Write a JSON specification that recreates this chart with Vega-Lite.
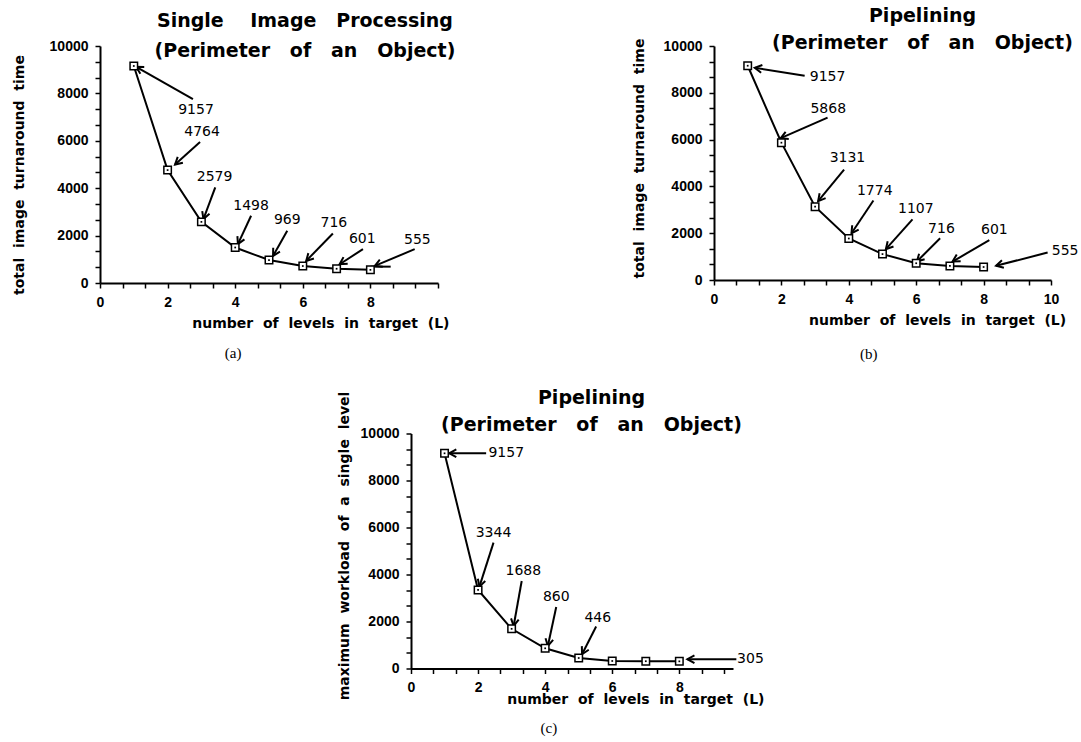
{
  "$schema": "https://vega.github.io/schema/vega-lite/v6.json",
  "padding": {"left": 11, "top": 7, "right": 5, "bottom": 5},
  "background": "white",
  "datasets": {
    "a_pts": [
      {"L": 1, "value": 9157}, {"L": 2, "value": 4764}, {"L": 3, "value": 2579}, {"L": 4, "value": 1498},
      {"L": 5, "value": 969}, {"L": 6, "value": 716}, {"L": 7, "value": 601}, {"L": 8, "value": 555}
    ],
    "b_pts": [
      {"L": 1, "value": 9157}, {"L": 2, "value": 5868}, {"L": 3, "value": 3131}, {"L": 4, "value": 1774},
      {"L": 5, "value": 1107}, {"L": 6, "value": 716}, {"L": 7, "value": 601}, {"L": 8, "value": 555}
    ],
    "c_pts": [
      {"L": 1, "value": 9157}, {"L": 2, "value": 3344}, {"L": 3, "value": 1688}, {"L": 4, "value": 860},
      {"L": 5, "value": 446}, {"L": 6, "value": 320}, {"L": 7, "value": 310}, {"L": 8, "value": 305}
    ],
    "a_arr": [
      {"label": "9157", "tx": 2.75, "ty": 7754, "hx": 1.07, "hy": 9123, "lx": 2.84, "ly": 7288, "ang": 29.7},
      {"label": "4764", "tx": 2.96, "ty": 5945, "hx": 2.22, "hy": 5000, "lx": 3.02, "ly": 6369, "ang": -41.7},
      {"label": "2579", "tx": 3.41, "ty": 4038, "hx": 3.06, "hy": 2699, "lx": 3.39, "ly": 4462, "ang": -69.7},
      {"label": "1498", "tx": 4.47, "ty": 2839, "hx": 4.08, "hy": 1640, "lx": 4.47, "ly": 3263, "ang": -64.8},
      {"label": "969", "tx": 5.54, "ty": 2203, "hx": 5.12, "hy": 1144, "lx": 5.54, "ly": 2657, "ang": -60.2},
      {"label": "716", "tx": 6.89, "ty": 2089, "hx": 6.10, "hy": 932, "lx": 6.92, "ly": 2513, "ang": -45.6},
      {"label": "601", "tx": 7.78, "ty": 1428, "hx": 7.09, "hy": 792, "lx": 7.76, "ly": 1852, "ang": -32.7},
      {"label": "555", "tx": 9.31, "ty": 1428, "hx": 8.13, "hy": 720, "lx": 9.39, "ly": 1822, "ang": -22.7}
    ],
    "a_seg": [{"x1": 8, "y1": 690, "x2": 8.6, "y2": 690}],
    "b_arr": [
      {"label": "9157", "tx": 2.69, "ty": 8725, "hx": 1.21, "hy": 9069, "lx": 3.37, "ly": 8678, "ang": 9.1},
      {"label": "5868", "tx": 3.37, "ty": 6940, "hx": 1.98, "hy": 6060, "lx": 3.39, "ly": 7310, "ang": -23.9},
      {"label": "3131", "tx": 3.86, "ty": 4717, "hx": 3.09, "hy": 3370, "lx": 3.96, "ly": 5210, "ang": -50.6},
      {"label": "1774", "tx": 4.73, "ty": 3400, "hx": 4.08, "hy": 1997, "lx": 4.77, "ly": 3795, "ang": -56.3},
      {"label": "1107", "tx": 5.89, "ty": 2592, "hx": 5.10, "hy": 1317, "lx": 5.99, "ly": 3017, "ang": -48.3},
      {"label": "716", "tx": 6.71, "ty": 1785, "hx": 6.02, "hy": 790, "lx": 6.75, "ly": 2167, "ang": -45.1},
      {"label": "601", "tx": 8.17, "ty": 1700, "hx": 7.08, "hy": 790, "lx": 8.32, "ly": 2125, "ang": -30.3},
      {"label": "555", "tx": 9.90, "ty": 1173, "hx": 8.37, "hy": 608, "lx": 10.42, "ly": 1245, "ang": -14.4}
    ],
    "c_arr": [
      {"label": "9157", "tx": 2.24, "ty": 9157, "hx": 1.14, "hy": 9157, "lx": 2.84, "ly": 9157, "ang": 0},
      {"label": "3344", "tx": 2.46, "ty": 5355, "hx": 2.04, "hy": 3485, "lx": 2.46, "ly": 5780, "ang": -72.4},
      {"label": "1688", "tx": 3.30, "ty": 3723, "hx": 3.06, "hy": 1810, "lx": 3.35, "ly": 4148, "ang": -79.9},
      {"label": "860", "tx": 4.33, "ty": 2618, "hx": 4.08, "hy": 960, "lx": 4.33, "ly": 3060, "ang": -78},
      {"label": "446", "tx": 5.52, "ty": 1785, "hx": 5.10, "hy": 608, "lx": 5.57, "ly": 2167, "ang": -62.7},
      {"label": "305", "tx": 9.70, "ty": 395, "hx": 8.24, "hy": 395, "lx": 10.12, "ly": 395, "ang": 0}
    ],
    "a_cap": [{"cx": 3.94, "cy": -2954, "t": "(a)"}],
    "b_cap": [{"cx": 4.59, "cy": -3162, "t": "(b)"}],
    "c_cap": [{"cx": 4.11, "cy": -2540, "t": "(c)"}]
  },
  "vconcat": [
    {
      "hconcat": [
        {
          "width": 338, "height": 237,
          "title": {"text": ["Single\u00a0\u00a0\u00a0\u00a0Image\u00a0\u00a0\u00a0Processing", "(Perimeter\u00a0\u00a0\u00a0of\u00a0\u00a0\u00a0an\u00a0\u00a0\u00a0Object)"], "dx": 36, "dy": 25.7, "lineHeight": 30},
          "layer": [
            {"data": {"name": "a_pts"}, "mark": {"type": "line", "color": "black", "strokeWidth": 2},
             "encoding": {
               "x": {"field": "L", "type": "quantitative", "scale": {"domain": [0, 10], "nice": false, "zero": false},
                     "title": "number\u00a0\u00a0of\u00a0\u00a0levels\u00a0\u00a0in\u00a0\u00a0target\u00a0\u00a0(L)",
                     "axis": {"values": [0,0.6667,1.3333,2,2.6667,3.3333,4,4.6667,5.3333,6,6.6667,7.3333,8,8.6667,9.3333,10],
                              "tickCount": 100, "tickMinStep": 0.1, "format": ".0f",
                              "labelExpr": "datum.value % 2 === 0 && datum.value < 10 ? datum.label : ''",
                              "titleX": 349, "titleY": 44.5, "titleAlign": "right", "titleBaseline": "alphabetic",
                              "labelFlush": false, "labelOverlap": false}},
               "y": {"field": "value", "type": "quantitative", "scale": {"domain": [0, 10000], "nice": false},
                     "title": "total\u00a0\u00a0image\u00a0\u00a0turnaround\u00a0\u00a0time",
                     "axis": {"values": [0,667,1333,2000,2667,3333,4000,4667,5333,6000,6667,7333,8000,8667,9333,10000],
                              "tickCount": 100,
                              "format": "d", "labelExpr": "datum.value % 2000 === 0 ? datum.label : ''",
                              "titleX": -81, "titleY": 128.5, "titleBaseline": "middle", "titleAlign": "center", "titleAngle": 270,
                              "labelOverlap": false}}
             }},
            {"data": {"name": "a_seg"}, "mark": {"type": "rule", "color": "black", "strokeWidth": 2},
             "encoding": {
               "x": {"field": "x1", "type": "quantitative", "scale": {"domain": [0, 10], "nice": false, "zero": false}, "title": "number\u00a0\u00a0of\u00a0\u00a0levels\u00a0\u00a0in\u00a0\u00a0target\u00a0\u00a0(L)"},
               "y": {"field": "y1", "type": "quantitative", "scale": {"domain": [0, 10000], "nice": false}, "title": "total\u00a0\u00a0image\u00a0\u00a0turnaround\u00a0\u00a0time"},
               "x2": {"field": "x2"}, "y2": {"field": "y2"}
             }},
            {"data": {"name": "a_arr"}, "mark": {"type": "rule", "color": "black", "strokeWidth": 2},
             "encoding": {
               "x": {"field": "tx", "type": "quantitative", "scale": {"domain": [0, 10], "nice": false, "zero": false}, "title": "number\u00a0\u00a0of\u00a0\u00a0levels\u00a0\u00a0in\u00a0\u00a0target\u00a0\u00a0(L)"},
               "y": {"field": "ty", "type": "quantitative", "scale": {"domain": [0, 10000], "nice": false}, "title": "total\u00a0\u00a0image\u00a0\u00a0turnaround\u00a0\u00a0time"},
               "x2": {"field": "hx"}, "y2": {"field": "hy"}
             }},
            {"data": {"name": "a_arr"}, "mark": {"type": "point", "shape": "M 1 -0.55 L 0 0 L 1 0.55", "size": 200, "filled": false, "stroke": "black", "strokeWidth": 2, "opacity": 1},
             "encoding": {
               "x": {"field": "hx", "type": "quantitative", "scale": {"domain": [0, 10], "nice": false, "zero": false}, "title": "number\u00a0\u00a0of\u00a0\u00a0levels\u00a0\u00a0in\u00a0\u00a0target\u00a0\u00a0(L)"},
               "y": {"field": "hy", "type": "quantitative", "scale": {"domain": [0, 10000], "nice": false}, "title": "total\u00a0\u00a0image\u00a0\u00a0turnaround\u00a0\u00a0time"},
               "angle": {"field": "ang", "type": "quantitative", "scale": null}
             }},
            {"data": {"name": "a_pts"}, "mark": {"type": "point", "shape": "square", "size": 56, "filled": true, "fill": "white", "stroke": "black", "strokeWidth": 1.5, "opacity": 1},
             "encoding": {
               "x": {"field": "L", "type": "quantitative", "scale": {"domain": [0, 10], "nice": false, "zero": false}, "title": "number\u00a0\u00a0of\u00a0\u00a0levels\u00a0\u00a0in\u00a0\u00a0target\u00a0\u00a0(L)"},
               "y": {"field": "value", "type": "quantitative", "scale": {"domain": [0, 10000], "nice": false}, "title": "total\u00a0\u00a0image\u00a0\u00a0turnaround\u00a0\u00a0time"}
             }},
            {"data": {"name": "a_pts"}, "mark": {"type": "square", "size": 3, "color": "black", "opacity": 1},
             "encoding": {
               "x": {"field": "L", "type": "quantitative", "scale": {"domain": [0, 10], "nice": false, "zero": false}, "title": "number\u00a0\u00a0of\u00a0\u00a0levels\u00a0\u00a0in\u00a0\u00a0target\u00a0\u00a0(L)"},
               "y": {"field": "value", "type": "quantitative", "scale": {"domain": [0, 10000], "nice": false}, "title": "total\u00a0\u00a0image\u00a0\u00a0turnaround\u00a0\u00a0time"}
             }},
            {"data": {"name": "a_arr"}, "mark": {"type": "text", "font": "DejaVu Sans", "fontSize": 14, "color": "black", "baseline": "middle", "align": "center"},
             "encoding": {
               "x": {"field": "lx", "type": "quantitative", "scale": {"domain": [0, 10], "nice": false, "zero": false}, "title": "number\u00a0\u00a0of\u00a0\u00a0levels\u00a0\u00a0in\u00a0\u00a0target\u00a0\u00a0(L)"},
               "y": {"field": "ly", "type": "quantitative", "scale": {"domain": [0, 10000], "nice": false}, "title": "total\u00a0\u00a0image\u00a0\u00a0turnaround\u00a0\u00a0time"},
               "text": {"field": "label"}
             }},
            {"data": {"name": "a_cap"}, "mark": {"type": "text", "font": "Liberation Serif", "fontSize": 15, "color": "black", "baseline": "middle", "align": "center"},
             "encoding": {
               "x": {"field": "cx", "type": "quantitative", "scale": {"domain": [0, 10], "nice": false, "zero": false}, "title": "number\u00a0\u00a0of\u00a0\u00a0levels\u00a0\u00a0in\u00a0\u00a0target\u00a0\u00a0(L)"},
               "y": {"field": "cy", "type": "quantitative", "scale": {"domain": [0, 10000], "nice": false}, "title": "total\u00a0\u00a0image\u00a0\u00a0turnaround\u00a0\u00a0time"},
               "text": {"field": "t"}
             }}
          ]
        },
        {
          "width": 337, "height": 234,
          "title": {"text": ["Pipelining", "(Perimeter\u00a0\u00a0\u00a0of\u00a0\u00a0\u00a0an\u00a0\u00a0\u00a0Object)"], "dx": 40, "dy": 18.7, "lineHeight": 26.7},
          "layer": [
            {"data": {"name": "b_pts"}, "mark": {"type": "line", "color": "black", "strokeWidth": 2},
             "encoding": {
               "x": {"field": "L", "type": "quantitative", "scale": {"domain": [0, 10], "nice": false, "zero": false},
                     "title": "number\u00a0\u00a0of\u00a0\u00a0levels\u00a0\u00a0in\u00a0\u00a0target\u00a0\u00a0(L)",
                     "axis": {"values": [0,0.6667,1.3333,2,2.6667,3.3333,4,4.6667,5.3333,6,6.6667,7.3333,8,8.6667,9.3333,10],
                              "tickCount": 100, "tickMinStep": 0.1, "format": ".0f",
                              "labelExpr": "datum.value % 2 === 0 ? datum.label : ''",
                              "titleX": 351.7, "titleY": 44.3, "titleAlign": "right", "titleBaseline": "alphabetic",
                              "labelFlush": false, "labelOverlap": false}},
               "y": {"field": "value", "type": "quantitative", "scale": {"domain": [0, 10000], "nice": false},
                     "title": "total\u00a0\u00a0image\u00a0\u00a0turnaround\u00a0\u00a0time",
                     "axis": {"values": [0,667,1333,2000,2667,3333,4000,4667,5333,6000,6667,7333,8000,8667,9333,10000],
                              "tickCount": 100,
                              "format": "d", "labelExpr": "datum.value % 2000 === 0 ? datum.label : ''",
                              "titleX": -75, "titleY": 112, "titleBaseline": "middle", "titleAlign": "center", "titleAngle": 270,
                              "labelOverlap": false}}
             }},
            {"data": {"name": "b_arr"}, "mark": {"type": "rule", "color": "black", "strokeWidth": 2},
             "encoding": {
               "x": {"field": "tx", "type": "quantitative", "scale": {"domain": [0, 10], "nice": false, "zero": false}, "title": "number\u00a0\u00a0of\u00a0\u00a0levels\u00a0\u00a0in\u00a0\u00a0target\u00a0\u00a0(L)"},
               "y": {"field": "ty", "type": "quantitative", "scale": {"domain": [0, 10000], "nice": false}, "title": "total\u00a0\u00a0image\u00a0\u00a0turnaround\u00a0\u00a0time"},
               "x2": {"field": "hx"}, "y2": {"field": "hy"}
             }},
            {"data": {"name": "b_arr"}, "mark": {"type": "point", "shape": "M 1 -0.55 L 0 0 L 1 0.55", "size": 200, "filled": false, "stroke": "black", "strokeWidth": 2, "opacity": 1},
             "encoding": {
               "x": {"field": "hx", "type": "quantitative", "scale": {"domain": [0, 10], "nice": false, "zero": false}, "title": "number\u00a0\u00a0of\u00a0\u00a0levels\u00a0\u00a0in\u00a0\u00a0target\u00a0\u00a0(L)"},
               "y": {"field": "hy", "type": "quantitative", "scale": {"domain": [0, 10000], "nice": false}, "title": "total\u00a0\u00a0image\u00a0\u00a0turnaround\u00a0\u00a0time"},
               "angle": {"field": "ang", "type": "quantitative", "scale": null}
             }},
            {"data": {"name": "b_pts"}, "mark": {"type": "point", "shape": "square", "size": 56, "filled": true, "fill": "white", "stroke": "black", "strokeWidth": 1.5, "opacity": 1},
             "encoding": {
               "x": {"field": "L", "type": "quantitative", "scale": {"domain": [0, 10], "nice": false, "zero": false}, "title": "number\u00a0\u00a0of\u00a0\u00a0levels\u00a0\u00a0in\u00a0\u00a0target\u00a0\u00a0(L)"},
               "y": {"field": "value", "type": "quantitative", "scale": {"domain": [0, 10000], "nice": false}, "title": "total\u00a0\u00a0image\u00a0\u00a0turnaround\u00a0\u00a0time"}
             }},
            {"data": {"name": "b_pts"}, "mark": {"type": "square", "size": 3, "color": "black", "opacity": 1},
             "encoding": {
               "x": {"field": "L", "type": "quantitative", "scale": {"domain": [0, 10], "nice": false, "zero": false}, "title": "number\u00a0\u00a0of\u00a0\u00a0levels\u00a0\u00a0in\u00a0\u00a0target\u00a0\u00a0(L)"},
               "y": {"field": "value", "type": "quantitative", "scale": {"domain": [0, 10000], "nice": false}, "title": "total\u00a0\u00a0image\u00a0\u00a0turnaround\u00a0\u00a0time"}
             }},
            {"data": {"name": "b_arr"}, "mark": {"type": "text", "font": "DejaVu Sans", "fontSize": 14, "color": "black", "baseline": "middle", "align": "center"},
             "encoding": {
               "x": {"field": "lx", "type": "quantitative", "scale": {"domain": [0, 10], "nice": false, "zero": false}, "title": "number\u00a0\u00a0of\u00a0\u00a0levels\u00a0\u00a0in\u00a0\u00a0target\u00a0\u00a0(L)"},
               "y": {"field": "ly", "type": "quantitative", "scale": {"domain": [0, 10000], "nice": false}, "title": "total\u00a0\u00a0image\u00a0\u00a0turnaround\u00a0\u00a0time"},
               "text": {"field": "label"}
             }},
            {"data": {"name": "b_cap"}, "mark": {"type": "text", "font": "Liberation Serif", "fontSize": 15, "color": "black", "baseline": "middle", "align": "center"},
             "encoding": {
               "x": {"field": "cx", "type": "quantitative", "scale": {"domain": [0, 10], "nice": false, "zero": false}, "title": "number\u00a0\u00a0of\u00a0\u00a0levels\u00a0\u00a0in\u00a0\u00a0target\u00a0\u00a0(L)"},
               "y": {"field": "cy", "type": "quantitative", "scale": {"domain": [0, 10000], "nice": false}, "title": "total\u00a0\u00a0image\u00a0\u00a0turnaround\u00a0\u00a0time"},
               "text": {"field": "t"}
             }}
          ]
        }
      ],
      "bounds": "flush",
      "spacing": 276
    },
    {
      "hconcat": [
        {"width": 100, "height": 10, "data": {"values": [{"k": 0}]}, "mark": {"type": "point", "opacity": 0}},
        {
          "width": 322, "height": 235,
          "title": {"text": ["Pipelining", "(Perimeter\u00a0\u00a0\u00a0of\u00a0\u00a0\u00a0an\u00a0\u00a0\u00a0Object)"], "dx": 19.5, "dy": 48, "lineHeight": 26.7},
          "layer": [
            {"data": {"name": "c_pts"}, "mark": {"type": "line", "color": "black", "strokeWidth": 2},
             "encoding": {
               "x": {"field": "L", "type": "quantitative", "scale": {"domain": [0, 9.6], "nice": false, "zero": false},
                     "title": "number\u00a0\u00a0of\u00a0\u00a0levels\u00a0\u00a0in\u00a0\u00a0target\u00a0\u00a0(L)",
                     "axis": {"values": [0,0.6667,1.3333,2,2.6667,3.3333,4,4.6667,5.3333,6,6.6667,7.3333,8,8.6667,9.3333],
                              "tickCount": 100, "tickMinStep": 0.1, "format": ".0f",
                              "labelExpr": "datum.value % 2 === 0 ? datum.label : ''",
                              "titleX": 353, "titleY": 35, "titleAlign": "right", "titleBaseline": "alphabetic",
                              "labelFlush": false, "labelOverlap": false}},
               "y": {"field": "value", "type": "quantitative", "scale": {"domain": [0, 10000], "nice": false},
                     "title": "maximum\u00a0\u00a0workload\u00a0\u00a0of\u00a0\u00a0a\u00a0\u00a0single\u00a0\u00a0level",
                     "axis": {"values": [0,667,1333,2000,2667,3333,4000,4667,5333,6000,6667,7333,8000,8667,9333,10000],
                              "tickCount": 100,
                              "format": "d", "labelExpr": "datum.value % 2000 === 0 ? datum.label : ''",
                              "titleX": -67, "titleY": 112, "titleBaseline": "middle", "titleAlign": "center", "titleAngle": 270,
                              "labelOverlap": false}}
             }},
            {"data": {"name": "c_arr"}, "mark": {"type": "rule", "color": "black", "strokeWidth": 2},
             "encoding": {
               "x": {"field": "tx", "type": "quantitative", "scale": {"domain": [0, 9.6], "nice": false, "zero": false}, "title": "number\u00a0\u00a0of\u00a0\u00a0levels\u00a0\u00a0in\u00a0\u00a0target\u00a0\u00a0(L)"},
               "y": {"field": "ty", "type": "quantitative", "scale": {"domain": [0, 10000], "nice": false}, "title": "maximum\u00a0\u00a0workload\u00a0\u00a0of\u00a0\u00a0a\u00a0\u00a0single\u00a0\u00a0level"},
               "x2": {"field": "hx"}, "y2": {"field": "hy"}
             }},
            {"data": {"name": "c_arr"}, "mark": {"type": "point", "shape": "M 1 -0.55 L 0 0 L 1 0.55", "size": 200, "filled": false, "stroke": "black", "strokeWidth": 2, "opacity": 1},
             "encoding": {
               "x": {"field": "hx", "type": "quantitative", "scale": {"domain": [0, 9.6], "nice": false, "zero": false}, "title": "number\u00a0\u00a0of\u00a0\u00a0levels\u00a0\u00a0in\u00a0\u00a0target\u00a0\u00a0(L)"},
               "y": {"field": "hy", "type": "quantitative", "scale": {"domain": [0, 10000], "nice": false}, "title": "maximum\u00a0\u00a0workload\u00a0\u00a0of\u00a0\u00a0a\u00a0\u00a0single\u00a0\u00a0level"},
               "angle": {"field": "ang", "type": "quantitative", "scale": null}
             }},
            {"data": {"name": "c_pts"}, "mark": {"type": "point", "shape": "square", "size": 56, "filled": true, "fill": "white", "stroke": "black", "strokeWidth": 1.5, "opacity": 1},
             "encoding": {
               "x": {"field": "L", "type": "quantitative", "scale": {"domain": [0, 9.6], "nice": false, "zero": false}, "title": "number\u00a0\u00a0of\u00a0\u00a0levels\u00a0\u00a0in\u00a0\u00a0target\u00a0\u00a0(L)"},
               "y": {"field": "value", "type": "quantitative", "scale": {"domain": [0, 10000], "nice": false}, "title": "maximum\u00a0\u00a0workload\u00a0\u00a0of\u00a0\u00a0a\u00a0\u00a0single\u00a0\u00a0level"}
             }},
            {"data": {"name": "c_pts"}, "mark": {"type": "square", "size": 3, "color": "black", "opacity": 1},
             "encoding": {
               "x": {"field": "L", "type": "quantitative", "scale": {"domain": [0, 9.6], "nice": false, "zero": false}, "title": "number\u00a0\u00a0of\u00a0\u00a0levels\u00a0\u00a0in\u00a0\u00a0target\u00a0\u00a0(L)"},
               "y": {"field": "value", "type": "quantitative", "scale": {"domain": [0, 10000], "nice": false}, "title": "maximum\u00a0\u00a0workload\u00a0\u00a0of\u00a0\u00a0a\u00a0\u00a0single\u00a0\u00a0level"}
             }},
            {"data": {"name": "c_arr"}, "mark": {"type": "text", "font": "DejaVu Sans", "fontSize": 14, "color": "black", "baseline": "middle", "align": "center"},
             "encoding": {
               "x": {"field": "lx", "type": "quantitative", "scale": {"domain": [0, 9.6], "nice": false, "zero": false}, "title": "number\u00a0\u00a0of\u00a0\u00a0levels\u00a0\u00a0in\u00a0\u00a0target\u00a0\u00a0(L)"},
               "y": {"field": "ly", "type": "quantitative", "scale": {"domain": [0, 10000], "nice": false}, "title": "maximum\u00a0\u00a0workload\u00a0\u00a0of\u00a0\u00a0a\u00a0\u00a0single\u00a0\u00a0level"},
               "text": {"field": "label"}
             }},
            {"data": {"name": "c_cap"}, "mark": {"type": "text", "font": "Liberation Serif", "fontSize": 15, "color": "black", "baseline": "middle", "align": "center"},
             "encoding": {
               "x": {"field": "cx", "type": "quantitative", "scale": {"domain": [0, 9.6], "nice": false, "zero": false}, "title": "number\u00a0\u00a0of\u00a0\u00a0levels\u00a0\u00a0in\u00a0\u00a0target\u00a0\u00a0(L)"},
               "y": {"field": "cy", "type": "quantitative", "scale": {"domain": [0, 10000], "nice": false}, "title": "maximum\u00a0\u00a0workload\u00a0\u00a0of\u00a0\u00a0a\u00a0\u00a0single\u00a0\u00a0level"},
               "text": {"field": "t"}
             }}
          ]
        }
      ],
      "bounds": "flush",
      "spacing": 211
    }
  ],
  "spacing": 26.5,
  "config": {
    "view": {"stroke": null},
    "axis": {"domainColor": "black", "domainWidth": 2, "tickColor": "black", "tickWidth": 1.5, "tickSize": 5,
             "labelFont": "Liberation Sans", "labelFontSize": 14, "labelFontWeight": "bold", "labelColor": "black", "labelPadding": 7,
             "labelOverlap": false, "labelFlush": false, "tickCount": 100,
             "titleFont": "DejaVu Sans", "titleFontSize": 14, "titleFontWeight": "bold", "titleColor": "black", "grid": false},
    "title": {"font": "DejaVu Sans", "fontSize": 19, "fontWeight": "bold", "color": "black", "anchor": "middle", "frame": "group", "baseline": "alphabetic", "offset": 0}
  }
}
